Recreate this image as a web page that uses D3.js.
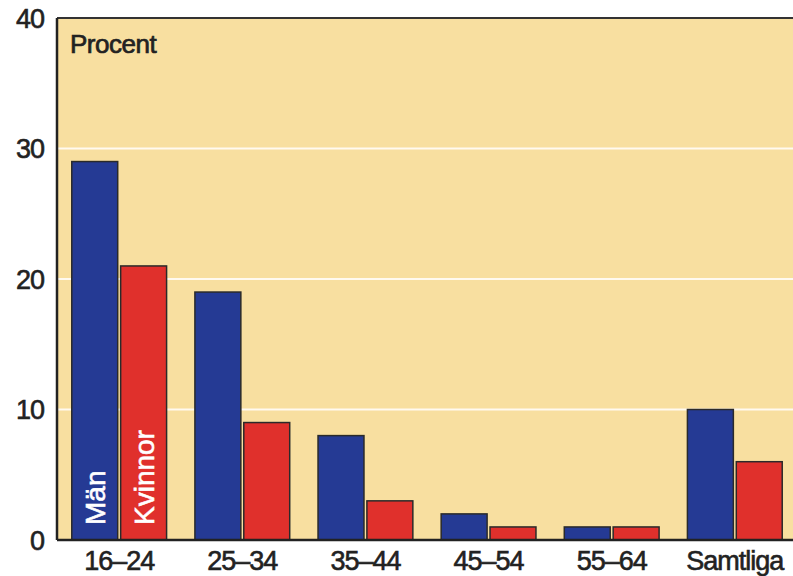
<!DOCTYPE html>
<html>
<head>
<meta charset="utf-8">
<script src="https://cdn.jsdelivr.net/npm/d3@7"></script>
<style>
  body { margin: 0; background: #fff; }
  text { font-family: "Liberation Sans", Arial, sans-serif; }
</style>
</head>
<body>
<div id="chart"></div>
<script>
// Age groups and shares (percent)
const groups = ["16–24", "25–34", "35–44", "45–54", "55–64", "Samtliga"];
const men = [29, 19, 8, 2, 1, 10];
const women = [21, 9, 3, 1, 1, 6];
const yTicks = [0, 10, 20, 30, 40];
const seriesNames = ["Män", "Kvinnor"];

const W = 793, H = 576;
const margin = {top: 18, right: -4, bottom: 36, left: 57};
const width = W - margin.left - margin.right,
      height = H - margin.top - margin.bottom;

const svg = d3.select("#chart").append("svg")
    .attr("width", W)
    .attr("height", H);

const g = svg.append("g")
    .attr("transform", `translate(${margin.left},${margin.top})`);

// background panel
g.append("rect")
    .attr("width", width + 10)
    .attr("height", height)
    .attr("fill", "#F8DFA0");

const x = d3.scaleBand()
    .domain(groups)
    .range([0, width])
    .paddingInner(0.23)
    .paddingOuter(0.12);

const x1 = d3.scaleBand()
    .domain(seriesNames)
    .range([0, x.bandwidth()])
    .paddingInner(0.06);

const y = d3.scaleLinear()
    .domain([0, 40])
    .range([height, 0]);

// white gridlines
g.selectAll(".grid")
    .data(yTicks.filter(d => d > 0 && d < 40))
    .enter().append("line")
    .attr("x1", 0)
    .attr("x2", width + 10)
    .attr("y1", d => y(d))
    .attr("y2", d => y(d))
    .attr("stroke", "#fffaf0")
    .attr("stroke-width", 2);

// bars
const colors = {"Män": "#253A94", "Kvinnor": "#E0302C"};
const rows = groups.map((grp, i) => ({grp, values: [
    {key: "Män", value: men[i]},
    {key: "Kvinnor", value: women[i]}
]}));

const grp = g.selectAll(".group")
    .data(rows)
    .enter().append("g")
    .attr("transform", d => `translate(${x(d.grp)},0)`);

grp.selectAll("rect")
    .data(d => d.values)
    .enter().append("rect")
    .attr("x", d => x1(d.key))
    .attr("y", d => y(d.value))
    .attr("width", x1.bandwidth())
    .attr("height", d => y(0) - y(d.value))
    .attr("fill", d => colors[d.key])
    .attr("stroke", "#2a2a2a")
    .attr("stroke-width", 1.5);

// series names written inside the first pair of bars
seriesNames.forEach(name => {
    const cx = x(groups[0]) + x1(name) + x1.bandwidth() / 2;
    g.append("text")
        .attr("transform", `translate(${cx + 10},${height - 15}) rotate(-90)`)
        .attr("fill", "#fff")
        .attr("stroke", "#fff")
        .attr("stroke-width", 0.6)
        .style("font-size", "28px")
        .text(name);
});

// frame: top, left, bottom
g.append("line").attr("x1", 0).attr("x2", width + 10).attr("y1", 0).attr("y2", 0)
    .attr("stroke", "#333").attr("stroke-width", 2);
g.append("line").attr("x1", 0).attr("x2", 0).attr("y1", 0).attr("y2", height)
    .attr("stroke", "#222").attr("stroke-width", 2.5);
g.append("line").attr("x1", 0).attr("x2", width + 10).attr("y1", height).attr("y2", height)
    .attr("stroke", "#222").attr("stroke-width", 2.5);

// y tick labels
g.selectAll(".ytick")
    .data(yTicks)
    .enter().append("text")
    .attr("x", -13)
    .attr("y", d => y(d))
    .attr("dy", "0.36em")
    .attr("text-anchor", "end")
    .attr("fill", "#222")
    .attr("stroke", "#222")
    .attr("stroke-width", 0.6)
    .style("font-size", "27px")
    .style("letter-spacing", "-1px")
    .text(d => d);

// x labels
g.selectAll(".xtick")
    .data(groups)
    .enter().append("text")
    .attr("x", d => x(d) + x.bandwidth() / 2)
    .attr("y", height + 30)
    .attr("text-anchor", "middle")
    .attr("fill", "#222")
    .attr("stroke", "#222")
    .attr("stroke-width", 0.6)
    .style("font-size", "27px")
    .style("letter-spacing", "-1px")
    .text(d => d);

g.append("text")
    .attr("x", 13)
    .attr("y", 35)
    .attr("fill", "#222")
    .attr("stroke", "#222")
    .attr("stroke-width", 0.7)
    .style("font-size", "26px")
    .style("letter-spacing", "-0.5px")
    .text("Procent");
</script>
</body>
</html>
